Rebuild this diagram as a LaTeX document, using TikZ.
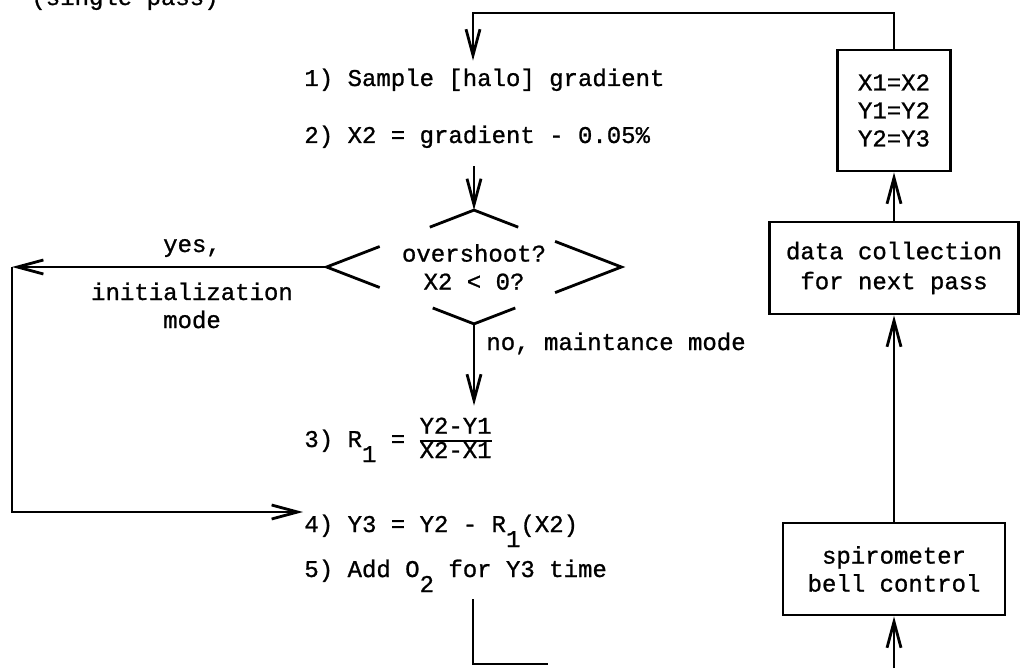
\documentclass[tikz,border=0pt]{standalone}
\usepackage{fontspec}
\setmonofont{Liberation Mono}[FakeBold=1]
\usepackage{amsmath}
\usetikzlibrary{arrows.meta,shapes.geometric,calc,positioning}
\newcommand{\sublow}[1]{\raisebox{-7.5pt}{#1}}
\newcommand{\ratio}[2]{{\renewcommand{\arraystretch}{0.75}\setlength{\arrayrulewidth}{1pt}%
	\begin{tabular}[c]{@{}c@{}}#1\\\hline #2\end{tabular}}}

\begin{document}
\begin{tikzpicture}[x=0.5pt,y=-0.5pt,line width=1.4pt,
	font=\ttfamily\fontsize{12}{14}\selectfont,
	arr/.style={-{Straight Barb[length=13pt,width=7pt]}},
	stepline/.style={anchor=base west,inner xsep=0pt,inner ysep=3pt,text height=9pt,text depth=3pt},
	procbox/.style={draw,align=center,inner sep=0pt},
	decision/.style={diamond,aspect=2.6,minimum width=146pt,minimum height=55.5pt,inner sep=0pt,align=center}]
	\useasboundingbox (0,0) rectangle (1020,668);

	\node[anchor=base west,inner sep=0pt] (title) at (30,5) {(single pass)};

	% program steps
	\node[stepline] (s1) at (303,86) {1) Sample [halo] gradient};
	\node[stepline] (s2) at (303,143) {2) X2 = gradient - 0.05\%};
	\node[decision] (ovs) at (474,267) {overshoot?\\X2 < 0?};
	\node[stepline,text height=17pt] (s3) at (303,447) {3) R\sublow{1} = \ratio{Y2-Y1}{X2-X1}};
	\node[stepline] (s4) at (303,532) {4) Y3 = Y2 - R\sublow{1}(X2)};
	\node[stepline] (s5) at (303,577) {5) Add O\sublow{2} for Y3 time};

	\node[anchor=base] (yes) at (192,252) {yes,};
	\node[anchor=base,align=center] (init) at (192,328) {initialization\\mode};
	\node[anchor=base west,inner sep=0pt] (no) at (485,350) {no, maintance mode};

	% right column
	\node[procbox,minimum width=56.5pt,minimum height=60.5pt] (b1) at (894,110.5) {X1=X2\\Y1=Y2\\Y2=Y3};
	\node[procbox,minimum width=124.5pt,minimum height=46pt] (b2) at (894,268) {data collection\\[1pt]for next pass};
	\node[procbox,minimum width=111pt,minimum height=46pt] (b3) at (894,569) {spirometer\\bell control};

	\coordinate (top) at (473,13);
	\coordinate (yc) at (12,267);
	\coordinate (bl) at (473,664);
	\coordinate (bend) at (548,664);
	\coordinate (br) at (894,668);

	% broken diamond
	\draw ($(ovs.north)!.3!(ovs.west)$) -- (ovs.north) -- ($(ovs.north)!.3!(ovs.east)$);
	\draw ($(ovs.west)!.36!(ovs.north)$) -- (ovs.west) -- ($(ovs.west)!.36!(ovs.south)$);
	\draw ($(ovs.east)!.45!(ovs.north)$) -- (ovs.east) -- ($(ovs.east)!.45!(ovs.south)$);
	\draw ($(ovs.south)!.28!(ovs.west)$) -- (ovs.south) -- ($(ovs.south)!.28!(ovs.east)$);

	\draw[arr] (b1.north) |- (top) -- (top |- s1.north);
	\draw[arr] ([yshift=-5pt]ovs.north |- s2.south) -- (ovs.north);
	\draw[arr] (ovs.west) -- (yc);
	\draw[arr] (yc) |- ([yshift=7pt]s4.west);
	\draw[arr] (ovs.south) -- (ovs.south |- s3.north);
	\draw ([yshift=-4.5pt]bl |- s5.south) -- (bl) -- (bend);

	\draw[arr] (br) -- (b3);
	\draw[arr] (b3) -- (b2);
	\draw[arr] (b2) -- (b1);
\end{tikzpicture}
\end{document}
